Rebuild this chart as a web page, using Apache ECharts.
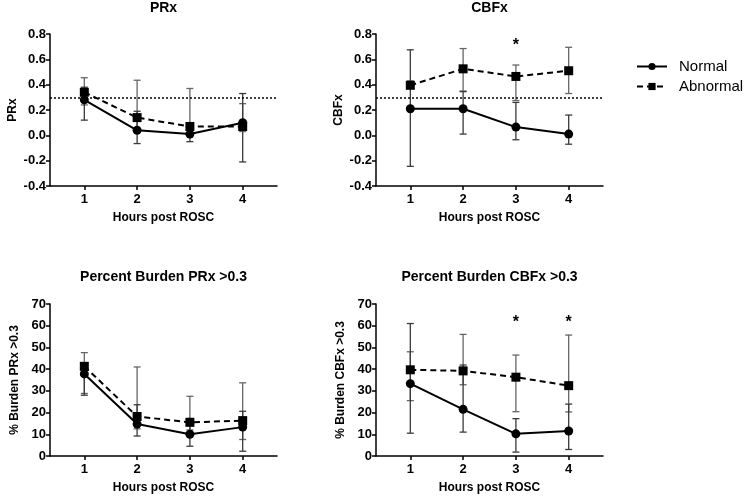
<!DOCTYPE html>
<html>
<head>
<meta charset="utf-8">
<script src="https://cdn.jsdelivr.net/npm/echarts@6/dist/echarts.min.js"></script>
<style>html,body{margin:0;padding:0;background:#fff}#c{width:752px;height:497px}</style>
</head>
<body>
<div id="c"></div>
<script>
const hours = [1, 2, 3, 4];
const seriesNames = ['Normal', 'Abnormal'];
const panelTitles = ['PRx', 'CBFx', 'Percent Burden PRx >0.3', 'Percent Burden CBFx >0.3'];
const yAxisNames = ['PRx', 'CBFx', '% Burden PRx >0.3', '% Burden CBFx >0.3'];
const xAxisName = 'Hours post ROSC';

// PRx
const prxNormal = [0.28, 0.04, 0.01, 0.10];
const prxNormalLow = [0.12, -0.065, -0.05, -0.21];
const prxNormalHigh = [0.38, 0.19, 0.10, 0.33];
const prxAbnormal = [0.34, 0.14, 0.07, 0.07];
const prxAbnormalLow = [0.24, 0.04, 0.04, 0.03];
const prxAbnormalHigh = [0.455, 0.435, 0.37, 0.25];

// CBFx
const cbfxNormal = [0.21, 0.21, 0.065, 0.01];
const cbfxNormalLow = [-0.245, 0.01, -0.035, -0.07];
const cbfxNormalHigh = [0.675, 0.345, 0.26, 0.16];
const cbfxAbnormal = [0.395, 0.525, 0.465, 0.51];
const cbfxAbnormalLow = [0.38, 0.35, 0.275, 0.33];
const cbfxAbnormalHigh = [0.43, 0.685, 0.555, 0.695];
const cbfxStars = [[3, 0.74]];

// Percent burden PRx > 0.3
const bPrxNormal = [37.8, 14.7, 10.0, 13.3];
const bPrxNormalLow = [28.0, 9.2, 4.5, 2.2];
const bPrxNormalHigh = [41.0, 23.6, 17.3, 20.6];
const bPrxAbnormal = [41.3, 18.2, 15.5, 16.3];
const bPrxAbnormalLow = [28.8, 12.5, 12.0, 7.6];
const bPrxAbnormalHigh = [47.6, 41.0, 27.5, 33.7];

// Percent burden CBFx > 0.3
const bCbfxNormal = [33.3, 21.5, 10.2, 11.5];
const bCbfxNormalLow = [10.5, 11.0, 1.8, 3.0];
const bCbfxNormalHigh = [61.0, 41.9, 17.2, 23.9];
const bCbfxAbnormal = [39.7, 39.2, 36.3, 32.4];
const bCbfxAbnormalLow = [25.5, 32.8, 20.4, 20.3];
const bCbfxAbnormalHigh = [48.0, 56.0, 46.5, 55.7];
const bCbfxStars = [[3, 63], [4, 63]];

const threshold = 0.3;
const indexTicks = [-0.4, -0.2, 0, 0.2, 0.4, 0.6, 0.8];
const burdenTicks = [0, 10, 20, 30, 40, 50, 60, 70];

const FONT = "'Liberation Sans', Arial, Helvetica, sans-serif";

const panels = [
  {n: prxNormal, nl: prxNormalLow, nh: prxNormalHigh, a: prxAbnormal, al: prxAbnormalLow, ah: prxAbnormalHigh, stars: [], ticks: indexTicks, line: true},
  {n: cbfxNormal, nl: cbfxNormalLow, nh: cbfxNormalHigh, a: cbfxAbnormal, al: cbfxAbnormalLow, ah: cbfxAbnormalHigh, stars: cbfxStars, ticks: indexTicks, line: true},
  {n: bPrxNormal, nl: bPrxNormalLow, nh: bPrxNormalHigh, a: bPrxAbnormal, al: bPrxAbnormalLow, ah: bPrxAbnormalHigh, stars: [], ticks: burdenTicks, line: false},
  {n: bCbfxNormal, nl: bCbfxNormalLow, nh: bCbfxNormalHigh, a: bCbfxAbnormal, al: bCbfxAbnormalLow, ah: bCbfxAbnormalHigh, stars: bCbfxStars, ticks: burdenTicks, line: false}
];

const gridPos = [
  {left: 50, top: 34},
  {left: 376, top: 34},
  {left: 50, top: 304},
  {left: 376, top: 304}
];
const GW = 227, GH = 152;

function errRender(color) {
  return function (params, api) {
    const x = api.value(0), lo = api.value(1), hi = api.value(2);
    const p1 = api.coord([x, lo]), p2 = api.coord([x, hi]);
    const w = 3.5;
    const style = {stroke: color, lineWidth: 1.3};
    return {type: 'group', children: [
      {type: 'line', shape: {x1: p1[0], y1: p1[1], x2: p2[0], y2: p2[1]}, style: style},
      {type: 'line', shape: {x1: p1[0] - w, y1: p1[1], x2: p1[0] + w, y2: p1[1]}, style: style},
      {type: 'line', shape: {x1: p2[0] - w, y1: p2[1], x2: p2[0] + w, y2: p2[1]}, style: style}
    ]};
  };
}
function starRender(params, api) {
  const p = api.coord([api.value(0), api.value(1)]);
  return {type: 'text', x: p[0], y: p[1] + 3.5, style: {text: '*', fill: '#000', font: 'bold 16px ' + FONT, align: 'center', verticalAlign: 'middle'}};
}

const grids = [], xAxes = [], yAxes = [], titles = [], series = [];
panels.forEach(function (pn, i) {
  grids.push({left: gridPos[i].left, top: gridPos[i].top, width: GW, height: GH, containLabel: false});
  titles.push({
    text: panelTitles[i], padding: 0,
    left: gridPos[i].left + GW / 2, top: i < 2 ? 1 : 270, textAlign: 'center',
    textStyle: {fontFamily: FONT, fontSize: 14, fontWeight: 'bold', color: '#000'}
  });
  xAxes.push({
    type: 'value', gridIndex: i, min: 0.35, max: 4.65,
    name: xAxisName, nameLocation: 'middle', nameGap: 26,
    nameTextStyle: {fontFamily: FONT, fontSize: 12, fontWeight: 'bold', color: '#000'},
    axisLine: {show: true, onZero: false, lineStyle: {color: '#000', width: 1.5}},
    axisTick: {show: true, length: 4, customValues: hours, lineStyle: {color: '#000', width: 1.5}},
    axisLabel: {customValues: hours, fontFamily: FONT, fontSize: 13, fontWeight: 'bold', color: '#000', margin: 7},
    splitLine: {show: false}
  });
  const tk = pn.ticks;
  yAxes.push({
    type: 'value', gridIndex: i, min: tk[0], max: tk[tk.length - 1], interval: tk[1] - tk[0],
    name: yAxisNames[i], nameLocation: 'middle', nameGap: i < 2 ? 31 : 29,
    nameTextStyle: {fontFamily: FONT, fontSize: 12, fontWeight: 'bold', color: '#000'},
    axisLine: {show: true, onZero: false, lineStyle: {color: '#000', width: 1.5}},
    axisTick: {show: true, length: 4, lineStyle: {color: '#000', width: 1.5}},
    axisLabel: {fontFamily: FONT, fontSize: 13, fontWeight: 'bold', color: '#000', margin: 4,
      formatter: function (v) { return pn.line ? (Math.round(v * 10) / 10).toFixed(1) : String(Math.round(v)); }},
    splitLine: {show: false}
  });

  const errN = hours.map(function (h, k) { return [h, pn.nl[k], pn.nh[k]]; });
  const errA = hours.map(function (h, k) { return [h, pn.al[k], pn.ah[k]]; });
  series.push({type: 'custom', name: 'errA' + i, xAxisIndex: i, yAxisIndex: i, renderItem: errRender('#666'), data: errA, encode: {x: 0, y: [1, 2]}, z: 1, silent: true});
  series.push({type: 'custom', name: 'errN' + i, xAxisIndex: i, yAxisIndex: i, renderItem: errRender('#3a3a3a'), data: errN, encode: {x: 0, y: [1, 2]}, z: 1, silent: true});

  const lineN = {
    type: 'line', name: seriesNames[0], xAxisIndex: i, yAxisIndex: i,
    data: hours.map(function (h, k) { return [h, pn.n[k]]; }),
    symbol: 'circle', symbolSize: 9,
    itemStyle: {color: '#000'}, lineStyle: {color: '#000', width: 2, type: 'solid'},
    z: 3, animation: false
  };
  if (pn.line) {
    lineN.markLine = {
      silent: true, symbol: ['none', 'none'], label: {show: false},
      lineStyle: {color: '#000', type: [2, 2], width: 1.5},
      data: [{yAxis: threshold}], animation: false
    };
  }
  series.push(lineN);
  series.push({
    type: 'line', name: seriesNames[1], xAxisIndex: i, yAxisIndex: i,
    data: hours.map(function (h, k) { return [h, pn.a[k]]; }),
    symbol: 'rect', symbolSize: 9,
    itemStyle: {color: '#000'}, lineStyle: {color: '#000', width: 2, type: [6, 4]},
    z: 3, animation: false
  });
  if (pn.stars.length) {
    series.push({type: 'custom', name: 'star' + i, xAxisIndex: i, yAxisIndex: i, renderItem: starRender, data: pn.stars, z: 4, silent: true});
  }
});

const chart = echarts.init(document.getElementById('c'), null, {renderer: 'canvas'});
chart.setOption({
  backgroundColor: '#fff',
  animation: false,
  title: titles,
  grid: grids,
  xAxis: xAxes,
  yAxis: yAxes,
  legend: {
    data: seriesNames, orient: 'vertical', left: 631, top: 54,
    itemWidth: 30, itemHeight: 9, itemGap: 5,
    textStyle: {fontFamily: FONT, fontSize: 15, color: '#000', padding: [0, 0, 0, 7]}
  },
  series: series
});
</script>
</body>
</html>
